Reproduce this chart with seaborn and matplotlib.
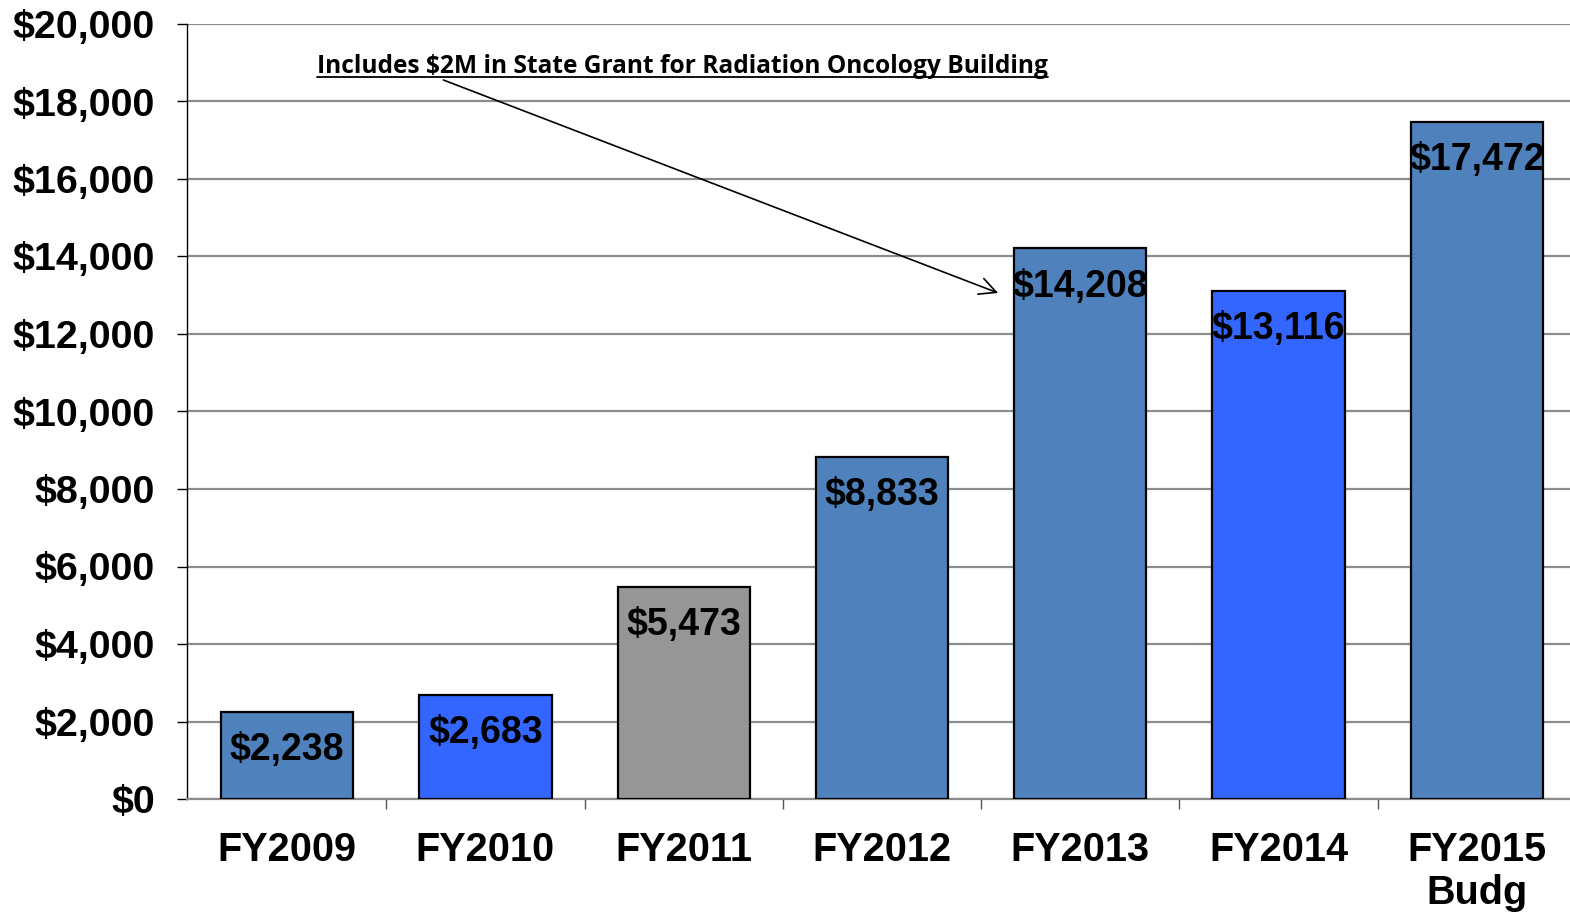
import matplotlib
matplotlib.use("Agg")
import matplotlib.pyplot as plt
import seaborn as sns
import pandas as pd
from matplotlib.ticker import FixedLocator, FuncFormatter

categories = ["FY2009", "FY2010", "FY2011", "FY2012", "FY2013", "FY2014", "FY2015\nBudg"]
values = [2238, 2683, 5473, 8833, 14208, 13116, 17472]
colors = ["#4F81BD", "#3366FF", "#969696", "#4F81BD", "#4F81BD", "#3366FF", "#4F81BD"]
yticks = list(range(0, 20001, 2000))
note = "Includes $2M in State Grant for Radiation Oncology Building"

sns.set_style("white")
plt.rcParams["font.family"] = ["Liberation Sans", "DejaVu Sans"]
plt.rcParams["text.color"] = "black"
plt.rcParams["xtick.labelcolor"] = "black"
plt.rcParams["ytick.labelcolor"] = "black"

df = pd.DataFrame({"cat": categories, "val": values})

fig = plt.figure(figsize=(15.70, 9.13), dpi=100)
ax = fig.add_axes([187/1570, (913-799)/913, 1 - 187/1570, (799-24)/913])

sns.barplot(data=df, x="cat", y="val", hue="cat", palette=colors, legend=False,
            width=0.667, edgecolor="black", linewidth=1.6, saturation=1, ax=ax, zorder=3)

ax.set_xlim(-0.505, 6.47)
ax.set_ylim(0, 20000)
ax.yaxis.set_major_locator(FixedLocator(yticks))
ax.yaxis.set_major_formatter(FuncFormatter(lambda v, p: f"${int(v):,}"))
ax.grid(axis="y", color="#8c8c8c", linewidth=1.6, zorder=0)
ax.set_axisbelow(True)
ax.set_xlabel("")
ax.set_ylabel("")

for s in ["top", "right"]:
    ax.spines[s].set_visible(False)
ax.spines["left"].set_color("black")
ax.spines["left"].set_linewidth(1.0)
ax.spines["bottom"].set_color("#8c8c8c")
ax.spines["bottom"].set_linewidth(1.6)

ax.tick_params(axis="y", which="major", direction="out", length=7, width=1.0, color="black",
               labelsize=28.4, pad=16, left=True)
for t in ax.get_yticklabels():
    t.set_fontweight("bold")
ax.set_xticks(range(len(categories)))
ax.set_xticklabels(categories, fontsize=28.5, fontweight="bold", linespacing=1.18)
ax.tick_params(axis="x", which="major", length=0, pad=23)
ax.set_xticks([i + 0.5 for i in range(len(categories) - 1)], minor=True)
ax.tick_params(axis="x", which="minor", direction="out", length=7, width=1.0,
               color="#555555", bottom=True)

for i, v in enumerate(values):
    ax.annotate(f"${v:,}", xy=(i, v), xytext=(0, -27.5), textcoords="offset points",
                ha="center", va="center", fontsize=27, fontweight="bold", zorder=5)

# annotation with arrow
txt = ax.text(1.995, 18916, note, ha="center", va="center", fontsize=17,
              fontweight="bold", family=["Open Sans", "DejaVu Sans"], zorder=6)
fig.canvas.draw()
r = fig.canvas.get_renderer()
w = txt.get_window_extent(renderer=r).width
txt.set_fontsize(17 * 732 / w)

ax.annotate("", xy=(3.586, 13058), xytext=(0.788, 18555),
            arrowprops=dict(arrowstyle="->", color="black", lw=1.2,
                            mutation_scale=30, shrinkA=0, shrinkB=0), zorder=6)

fig.canvas.draw()
bb = txt.get_window_extent(renderer=fig.canvas.get_renderer())
inv = ax.transData.inverted()
(x0, y0), (x1, y1) = inv.transform([(bb.x0, bb.y0 + 2), (bb.x1, bb.y0 + 2)])
ax.plot([x0, x1], [y0, y1], color="black", lw=1.3, zorder=6, clip_on=False)

fig.savefig("out.png", dpi=100)
